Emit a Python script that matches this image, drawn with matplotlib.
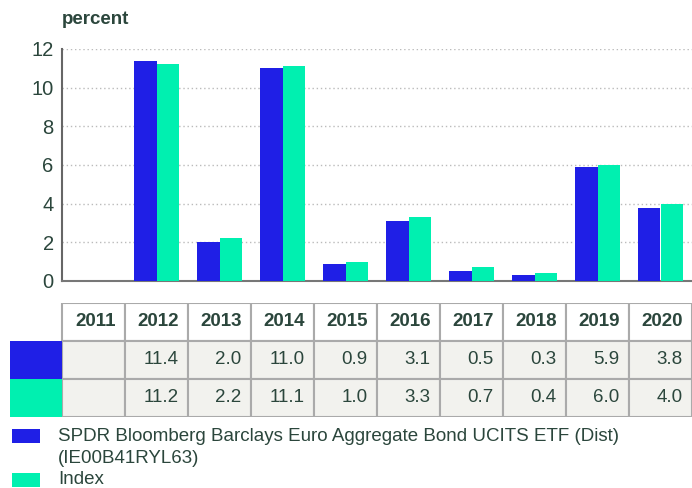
import numpy as np
import matplotlib
matplotlib.use("Agg")
from matplotlib import pyplot as plt
from matplotlib.patches import Rectangle

years = ["2011", "2012", "2013", "2014", "2015", "2016", "2017", "2018", "2019", "2020"]
etf = [np.nan, 11.4, 2.0, 11.0, 0.9, 3.1, 0.5, 0.3, 5.9, 3.8]
index = [np.nan, 11.2, 2.2, 11.1, 1.0, 3.3, 0.7, 0.4, 6.0, 4.0]
etf_name = "SPDR Bloomberg Barclays Euro Aggregate Bond UCITS ETF (Dist)\n(IE00B41RYL63)"
index_name = "Index"
yticks = [0, 2, 4, 6, 8, 10, 12]

BLUE = "#1f1fe6"
GREEN = "#00f0b0"
TXT = "#2b463c"
plt.rcParams['font.family'] = ['Liberation Sans', 'DejaVu Sans']

W, H = 692, 488
fig = plt.figure(figsize=(W / 100, H / 100), dpi=100)

def px(l, t, r, b):
    return [l / W, 1 - b / H, (r - l) / W, (b - t) / H]

# bar chart
ax = fig.add_axes(px(62, 49, 692, 281))
x = np.arange(len(years))
bw = 0.35
ax.bar(x - bw / 2, etf, bw, color=BLUE, zorder=3)
ax.bar(x + bw / 2, index, bw, color=GREEN, zorder=3)
ax.set_xlim(-0.5, len(years) - 0.5)
ax.set_ylim(0, 12)
ax.set_yticks(yticks)
ax.set_yticklabels([str(v) for v in yticks], fontsize=14.5, color=TXT)
ax.tick_params(axis='y', length=0, pad=6)
ax.set_xticks([])
for s in ["top", "right"]:
    ax.spines[s].set_visible(False)
ax.spines["left"].set_color("#666666")
ax.spines["left"].set_linewidth(1.5)
ax.spines["bottom"].set_color("#777777")
ax.spines["bottom"].set_linewidth(1.5)
ax.yaxis.grid(True, linestyle=(0, (1, 2)), color="#bbbbbb", linewidth=1, zorder=0)
fig.text(62 / W, 1 - 20 / H, "percent", fontsize=13.5, fontweight="bold", color=TXT,
         ha="left", va="center")

# table
tx = fig.add_axes(px(10, 303, 692, 417))
left = -0.5 - 52 / 63
tx.set_xlim(left, len(years) - 0.5)
tx.set_ylim(3, 0)
tx.axis("off")
edge = "#aaaaaa"
for i, yr in enumerate(years):
    tx.add_patch(Rectangle((i - 0.5, 0), 1, 1, facecolor="white", edgecolor=edge, lw=1.5))
    tx.text(i + 0.5 - 0.15, 0.5, yr, ha="right", va="center", fontsize=13.5,
            fontweight="bold", color=TXT)
    for r, vals in enumerate([etf, index], start=1):
        tx.add_patch(Rectangle((i - 0.5, r), 1, 1, facecolor="#f2f2ee", edgecolor=edge, lw=1.5))
        if not np.isnan(vals[i]):
            tx.text(i + 0.5 - 0.15, r + 0.5, f"{vals[i]:.1f}", ha="right", va="center",
                    fontsize=13.5, color=TXT)
tx.add_patch(Rectangle((left, 1), -0.5 - left, 1, facecolor=BLUE, edgecolor="none"))
tx.add_patch(Rectangle((left, 2), -0.5 - left, 1, facecolor=GREEN, edgecolor="none"))

# legend
for color, top, label, ty in [(BLUE, 429, etf_name, 428), (GREEN, 473, index_name, 480)]:
    fig.patches.append(Rectangle((12 / W, 1 - (top + 14) / H), 28 / W, 14 / H,
                                 facecolor=color, edgecolor="none",
                                 transform=fig.transFigure, figure=fig))
    fig.text(58 / W, 1 - ty / H, label, fontsize=13.5, color=TXT, ha="left", va="top"
             if "\n" in label else "center", linespacing=1.4)

fig.savefig("out.png", dpi=100)
